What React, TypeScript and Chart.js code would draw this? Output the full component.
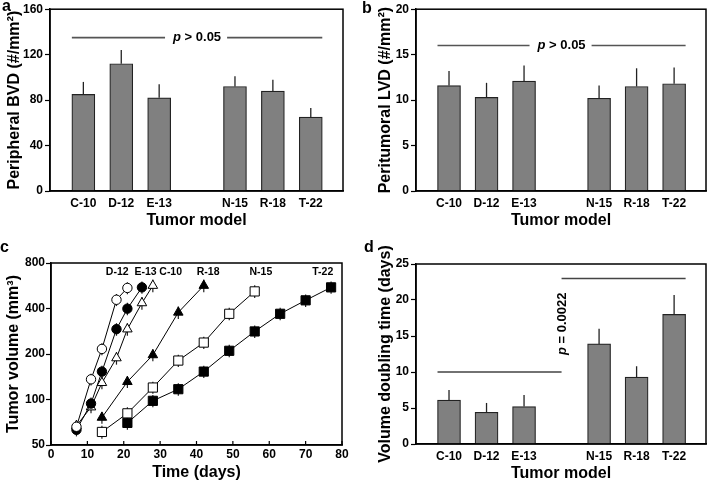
import React, { useEffect, useRef } from 'react';
import { Chart, registerables } from 'chart.js';

Chart.register(...registerables);
Chart.defaults.color = '#000';

const FONT = '"Liberation Sans", Arial, Helvetica, sans-serif';

// ---------- bar panels (a, b, d) ----------
const modelLabels = ['C-10', 'D-12', 'E-13', 'N-15', 'R-18', 'T-22'];
const modelPositions = [1, 2, 3, 5, 6, 7];

const bvdMeans = [85, 112, 82, 92, 88, 65];
const bvdErrors = [11, 12, 12, 9, 10, 8];
const bvdTicks = [0, 40, 80, 120, 160];
const bvdPLevel = 135;

const lvdMeans = [11.6, 10.3, 12.1, 10.2, 11.5, 11.8];
const lvdErrors = [1.6, 1.6, 1.7, 1.4, 2.0, 1.8];
const lvdTicks = [0, 5, 10, 15, 20];
const lvdPLevel = 16;

const doublingMeans = [6.1, 4.4, 5.2, 13.9, 9.3, 18.0];
const doublingErrors = [1.4, 1.3, 1.6, 2.1, 1.5, 2.7];
const doublingTicks = [0, 5, 10, 15, 20, 25];
const doublingLowLevel = 10;
const doublingHighLevel = 23;
const doublingTextLevel = 16.7;
const groupSplit = 4;

// ---------- growth panel (c) ----------
const dayTicks = [0, 10, 20, 30, 40, 50, 60, 70, 80];
const volumeTicks = [50, 100, 200, 400, 800];

const d12Days = [7, 11, 14, 18, 21];
const d12Volume = [66, 136, 216, 457, 547];
const d12Error = [6, 12, 20, 42, 50];

const e13Days = [7, 11, 14, 18, 21, 25];
const e13Volume = [63, 94, 153, 292, 399, 552];
const e13Error = [6, 9, 14, 28, 38, 52];

const c10Days = [7, 11, 14, 18, 21, 25, 28];
const c10Volume = [67, 89, 129, 188, 292, 435, 567];
const c10Error = [6, 8, 12, 18, 28, 42, 55];

const r18Days = [14, 21, 28, 35, 42];
const r18Volume = [76, 131, 197, 377, 567];
const r18Error = [7, 12, 18, 36, 55];

const n15Days = [14, 21, 28, 35, 42, 49, 56];
const n15Volume = [61, 81, 120, 181, 238, 369, 519];
const n15Error = [6, 8, 11, 17, 22, 35, 50];

const t22Days = [21, 28, 35, 42, 49, 56, 63, 70, 77];
const t22Volume = [70, 98, 117, 153, 210, 282, 369, 453, 552];
const t22Error = [7, 9, 11, 14, 20, 27, 35, 43, 52];

const growthLabelNames = ['D-12', 'E-13', 'C-10', 'R-18', 'N-15', 'T-22'];
const growthLabelDays = [18.2, 26, 32.9, 43.2, 57.7, 74.7];
const growthLabelVolume = 694;

// ---------- helpers ----------
function drawPText(ctx: CanvasRenderingContext2D, cx: number, cy: number, rest: string, size: number) {
  ctx.textBaseline = 'middle';
  ctx.textAlign = 'left';
  ctx.font = `italic bold ${size}px ${FONT}`;
  const w1 = ctx.measureText('p').width;
  ctx.font = `bold ${size}px ${FONT}`;
  const w2 = ctx.measureText(rest).width;
  const start = cx - (w1 + w2) / 2;
  ctx.font = `italic bold ${size}px ${FONT}`;
  ctx.fillText('p', start, cy);
  ctx.font = `bold ${size}px ${FONT}`;
  ctx.fillText(rest, start + w1, cy);
  return { start, end: start + w1 + w2 };
}

function framePlugin(letter: string, lx: number, ly: number, extra?: (chart: any) => void) {
  return {
    id: 'frameAndText',
    afterDraw(chart: any) {
      const { ctx, chartArea: a } = chart;
      ctx.save();
      ctx.strokeStyle = '#000';
      ctx.lineWidth = 1.5;
      ctx.strokeRect(a.left, a.top, a.right - a.left, a.bottom - a.top);
      ctx.fillStyle = '#000';
      ctx.font = `bold 16px ${FONT}`;
      ctx.textAlign = 'left';
      ctx.textBaseline = 'alphabetic';
      ctx.fillText(letter, lx, ly);
      if (extra) extra(chart);
      ctx.restore();
    },
  };
}

function barErrorPlugin(means: number[], errors: number[]) {
  return {
    id: 'barErrors',
    afterDatasetsDraw(chart: any) {
      const { ctx } = chart;
      const meta = chart.getDatasetMeta(0);
      const y = chart.scales.y;
      ctx.save();
      ctx.strokeStyle = '#222';
      ctx.lineWidth = 1.3;
      meta.data.forEach((bar: any, i: number) => {
        const top = y.getPixelForValue(means[i] + errors[i]);
        ctx.beginPath();
        ctx.moveTo(bar.x, bar.y);
        ctx.lineTo(bar.x, top);
        ctx.stroke();
      });
      ctx.restore();
    },
  };
}

function pLineAnnot(level: number) {
  return (chart: any) => {
    const { ctx } = chart;
    const meta = chart.getDatasetMeta(0);
    const first = meta.data[0];
    const last = meta.data[meta.data.length - 1];
    const x0 = first.x - first.width / 2;
    const x1 = last.x + last.width / 2;
    const yp = chart.scales.y.getPixelForValue(level);
    const cx = chart.scales.x.getPixelForValue(groupSplit);
    ctx.fillStyle = '#000';
    const { start, end } = drawPText(ctx, cx, yp, ' > 0.05', 13);
    ctx.strokeStyle = '#555';
    ctx.lineWidth = 1.6;
    ctx.beginPath();
    ctx.moveTo(x0, yp);
    ctx.lineTo(start - 8, yp);
    ctx.moveTo(end + 6, yp);
    ctx.lineTo(x1, yp);
    ctx.stroke();
  };
}

function doublingAnnot(chart: any) {
  const { ctx } = chart;
  const meta = chart.getDatasetMeta(0);
  const first = meta.data[0];
  const last = meta.data[meta.data.length - 1];
  const x0 = first.x - first.width / 2;
  const x1 = last.x + last.width / 2;
  const xs = chart.scales.x.getPixelForValue(groupSplit);
  const yLow = chart.scales.y.getPixelForValue(doublingLowLevel);
  const yHigh = chart.scales.y.getPixelForValue(doublingHighLevel);
  const yText = chart.scales.y.getPixelForValue(doublingTextLevel);
  ctx.strokeStyle = '#444';
  ctx.lineWidth = 1.5;
  ctx.beginPath();
  ctx.moveTo(x0, yLow);
  ctx.lineTo(xs, yLow);
  ctx.moveTo(xs, yHigh);
  ctx.lineTo(x1, yHigh);
  ctx.stroke();
  ctx.save();
  ctx.translate(xs + 1, yText);
  ctx.rotate(-Math.PI / 2);
  ctx.fillStyle = '#000';
  drawPText(ctx, 0, 0, ' = 0.0022', 13);
  ctx.restore();
}

type BarPanel = {
  means: number[];
  errors: number[];
  ticks: number[];
  yTitle: string;
  yTitleSize: number;
  yTitlePad: number;
  xTitlePad: number;
  yWidth: number;
  xHeight: number;
  padTop: number;
  padRight: number;
  letter: string;
  letterX: number;
  letterY: number;
  annot: (chart: any) => void;
};

function barConfig(p: BarPanel): any {
  const labelFor: Record<number, string> = {};
  modelPositions.forEach((v, i) => (labelFor[v] = modelLabels[i]));
  return {
    type: 'bar',
    data: {
      datasets: [
        {
          data: modelPositions.map((x, i) => ({ x, y: p.means[i] })),
          backgroundColor: '#808080',
          borderColor: '#222',
          borderWidth: 1.2,
          borderSkipped: 'bottom',
          barThickness: 23,
        },
      ],
    },
    options: {
      responsive: false,
      animation: false,
      layout: { padding: { top: p.padTop, right: p.padRight, left: 0, bottom: 0 } },
      plugins: { legend: { display: false }, tooltip: { enabled: false } },
      scales: {
        x: {
          type: 'linear',
          offset: false,
          min: 0.12,
          max: 7.85,
          afterBuildTicks: (s: any) => {
            s.ticks = modelPositions.map((v) => ({ value: v }));
          },
          afterFit: (s: any) => {
            s.height = p.xHeight;
          },
          grid: { display: false, drawTicks: false, tickLength: 0 },
          border: { display: true, color: '#000', width: 1.5 },
          ticks: {
            autoSkip: false,
            maxRotation: 0,
            padding: 5,
            font: { family: FONT, size: 12, weight: 'bold' },
            callback: (v: number) => labelFor[v] ?? '',
          },
          title: {
            display: true,
            text: 'Tumor model',
            font: { family: FONT, size: 16, weight: 'bold' },
            padding: { top: 0, bottom: p.xTitlePad },
          },
        },
        y: {
          min: p.ticks[0],
          max: p.ticks[p.ticks.length - 1],
          afterBuildTicks: (s: any) => {
            s.ticks = p.ticks.map((v) => ({ value: v }));
          },
          afterFit: (s: any) => {
            s.width = p.yWidth;
          },
          grid: { drawOnChartArea: false, tickLength: 5, color: '#000', tickWidth: 1.2 },
          border: { display: true, color: '#000', width: 1.5 },
          ticks: { padding: 2, font: { family: FONT, size: 12, weight: 'bold' } },
          title: {
            display: true,
            text: p.yTitle,
            font: { family: FONT, size: p.yTitleSize, weight: 'bold' },
            padding: { top: p.yTitlePad, bottom: 0 },
          },
        },
      },
    },
    plugins: [barErrorPlugin(p.means, p.errors), framePlugin(p.letter, p.letterX, p.letterY, p.annot)],
  };
}

function growthConfig(): any {
  const series = [
    { name: 'D-12', days: d12Days, vol: d12Volume, err: d12Error, style: 'circle', fill: '#fff', r: 4.7 },
    { name: 'E-13', days: e13Days, vol: e13Volume, err: e13Error, style: 'circle', fill: '#000', r: 4.7 },
    { name: 'C-10', days: c10Days, vol: c10Volume, err: c10Error, style: 'triangle', fill: '#fff', r: 5.5 },
    { name: 'R-18', days: r18Days, vol: r18Volume, err: r18Error, style: 'triangle', fill: '#000', r: 5.5 },
    { name: 'N-15', days: n15Days, vol: n15Volume, err: n15Error, style: 'rect', fill: '#fff', r: 6.5 },
    { name: 'T-22', days: t22Days, vol: t22Volume, err: t22Error, style: 'rect', fill: '#000', r: 6.5 },
  ];
  const errPlugin = {
    id: 'growthErrors',
    beforeDatasetsDraw(chart: any) {
      const { ctx } = chart;
      const xs = chart.scales.x;
      const ys = chart.scales.y;
      ctx.save();
      ctx.strokeStyle = '#222';
      ctx.lineWidth = 1.2;
      series.forEach((s) => {
        s.days.forEach((d, i) => {
          const x = xs.getPixelForValue(d);
          ctx.beginPath();
          ctx.moveTo(x, ys.getPixelForValue(s.vol[i] + s.err[i]));
          ctx.lineTo(x, ys.getPixelForValue(s.vol[i] - s.err[i]));
          ctx.stroke();
        });
      });
      ctx.restore();
    },
  };
  const labelsAndTicks = (chart: any) => {
    const { ctx, chartArea: a } = chart;
    const xs = chart.scales.x;
    const ys = chart.scales.y;
    ctx.strokeStyle = '#000';
    ctx.lineWidth = 1.2;
    ctx.beginPath();
    dayTicks.forEach((d) => {
      const x = xs.getPixelForValue(d);
      ctx.moveTo(x, a.bottom);
      ctx.lineTo(x, a.bottom - 4);
    });
    ctx.stroke();
    ctx.fillStyle = '#000';
    ctx.font = `bold 10.5px ${FONT}`;
    ctx.textAlign = 'center';
    ctx.textBaseline = 'middle';
    growthLabelNames.forEach((n, i) => {
      ctx.fillText(n, xs.getPixelForValue(growthLabelDays[i]), ys.getPixelForValue(growthLabelVolume));
    });
  };
  return {
    type: 'scatter',
    data: {
      datasets: series.map((s) => ({
        label: s.name,
        data: s.days.map((d, i) => ({ x: d, y: s.vol[i] })),
        showLine: true,
        borderColor: '#000',
        borderWidth: 1,
        pointStyle: s.style,
        pointRadius: s.r,
        pointBackgroundColor: s.fill,
        pointBorderColor: '#000',
        pointBorderWidth: 1,
      })),
    },
    options: {
      responsive: false,
      animation: false,
      layout: { padding: { top: 23, right: 12, left: 0, bottom: 0 } },
      plugins: { legend: { display: false }, tooltip: { enabled: false } },
      scales: {
        x: {
          type: 'linear',
          min: 0,
          max: 80,
          afterBuildTicks: (s: any) => {
            s.ticks = dayTicks.map((v) => ({ value: v }));
          },
          afterFit: (s: any) => {
            s.height = 41;
          },
          grid: { display: false, drawTicks: false, tickLength: 0 },
          border: { display: true, color: '#000', width: 1.5 },
          ticks: { padding: 2, maxRotation: 0, autoSkip: false, font: { family: FONT, size: 12, weight: 'bold' } },
          title: {
            display: true,
            text: 'Time (days)',
            font: { family: FONT, size: 16, weight: 'bold' },
            padding: { top: 0, bottom: 4 },
          },
        },
        y: {
          type: 'logarithmic',
          min: 50,
          max: 800,
          afterBuildTicks: (s: any) => {
            s.ticks = volumeTicks.map((v) => ({ value: v }));
          },
          afterFit: (s: any) => {
            s.width = 51;
          },
          grid: { drawOnChartArea: false, tickLength: 5, color: '#000', tickWidth: 1.2 },
          border: { display: true, color: '#000', width: 1.5 },
          ticks: { padding: 1, font: { family: FONT, size: 12, weight: 'bold' }, callback: (v: number) => String(v) },
          title: {
            display: true,
            text: 'Tumor volume (mm³)',
            font: { family: FONT, size: 16, weight: 'bold' },
            padding: { top: 4, bottom: 0 },
          },
        },
      },
    },
    plugins: [errPlugin, framePlugin('c', 0, 12, labelsAndTicks)],
  };
}

function ChartCanvas(props: { make: () => any; left: number; top: number; width: number; height: number }) {
  const ref = useRef<HTMLCanvasElement>(null);
  useEffect(() => {
    const chart = new Chart(ref.current as HTMLCanvasElement, props.make());
    return () => chart.destroy();
  }, []);
  return (
    <canvas
      ref={ref}
      width={props.width}
      height={props.height}
      style={{ position: 'absolute', left: props.left, top: props.top, width: props.width, height: props.height }}
    />
  );
}

export default function App() {
  return (
    <div style={{ position: 'absolute', left: 0, top: 0, width: 709, height: 486, background: '#fff' }}>
      <ChartCanvas
        left={0}
        top={0}
        width={354}
        height={240}
        make={() =>
          barConfig({
            means: bvdMeans,
            errors: bvdErrors,
            ticks: bvdTicks,
            yTitle: 'Peripheral BVD (#/mm²)',
            yTitleSize: 16,
            yTitlePad: 5,
            xTitlePad: 10,
            yWidth: 50,
            xHeight: 49,
            padTop: 9,
            padRight: 11,
            letter: 'a',
            letterX: 2,
            letterY: 11,
            annot: pLineAnnot(bvdPLevel),
          })
        }
      />
      <ChartCanvas
        left={354}
        top={0}
        width={355}
        height={240}
        make={() =>
          barConfig({
            means: lvdMeans,
            errors: lvdErrors,
            ticks: lvdTicks,
            yTitle: 'Peritumoral LVD (#/mm²)',
            yTitleSize: 16,
            yTitlePad: 22,
            xTitlePad: 10,
            yWidth: 62,
            xHeight: 49,
            padTop: 9,
            padRight: 3,
            letter: 'b',
            letterX: 8,
            letterY: 13,
            annot: pLineAnnot(lvdPLevel),
          })
        }
      />
      <ChartCanvas left={0} top={240} width={354} height={246} make={growthConfig} />
      <ChartCanvas
        left={354}
        top={240}
        width={355}
        height={246}
        make={() =>
          barConfig({
            means: doublingMeans,
            errors: doublingErrors,
            ticks: doublingTicks,
            yTitle: 'Volume doubling time (days)',
            yTitleSize: 16,
            yTitlePad: 22,
            xTitlePad: 3,
            yWidth: 62,
            xHeight: 42,
            padTop: 24,
            padRight: 3,
            letter: 'd',
            letterX: 10,
            letterY: 12,
            annot: doublingAnnot,
          })
        }
      />
    </div>
  );
}
